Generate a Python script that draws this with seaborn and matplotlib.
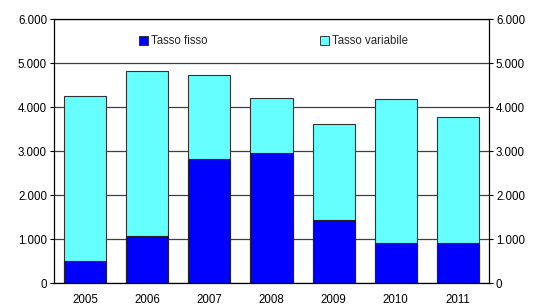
import matplotlib
matplotlib.use("Agg")
import matplotlib.pyplot as plt
import seaborn as sns
import pandas as pd
from matplotlib.patches import Patch
from matplotlib.ticker import FuncFormatter

sns.set_theme(style="white")
plt.rcParams["font.family"] = ["Liberation Sans", "DejaVu Sans"]

years = ["2005", "2006", "2007", "2008", "2009", "2010", "2011"]
fisso = [500, 1060, 2815, 2955, 1425, 905, 915]
totale = [4260, 4810, 4725, 4210, 3615, 4190, 3765]

df = pd.DataFrame({"anno": years, "fisso": fisso, "totale": totale})

fig = plt.figure(figsize=(5.34, 3.06), dpi=100)
ax = fig.add_axes([54 / 534, 1 - 283 / 306, 435 / 534, 264 / 306])

ax.set_axisbelow(True)
ax.yaxis.grid(True, color="#404040", linewidth=0.9)
sns.barplot(data=df, x="anno", y="totale", color="#66FFFF", saturation=1,
            width=0.68, edgecolor="#333333", linewidth=0.8, ax=ax)
sns.barplot(data=df, x="anno", y="fisso", color="#0000FF", saturation=1,
            width=0.68, edgecolor="#222222", linewidth=0.8, ax=ax)

ax.set_ylim(0, 6000)
ax.set_xlim(-0.5, 6.5)
ax.set_yticks(range(0, 6001, 1000))
fmt = FuncFormatter(lambda v, p: f"{int(v):,}".replace(",", "."))
ax.yaxis.set_major_formatter(fmt)
ax.set_xlabel("")
ax.set_ylabel("")
for s in ax.spines.values():
    s.set_color("black")
    s.set_linewidth(0.9)
ax.tick_params(axis="y", labelsize=8.3, colors="black", length=3, width=0.8,
               direction="out", left=True, right=True, labelright=True, pad=2)
ax.tick_params(axis="x", labelsize=8.3, length=0, pad=8)
for lbl in ax.get_yticklabels() + ax.get_xticklabels():
    lbl.set_color("black")

handles = [Patch(facecolor="#0000FF", edgecolor="#222222", linewidth=0.6),
           Patch(facecolor="#66FFFF", edgecolor="#222222", linewidth=0.6)]
ax.legend(handles, ["Tasso fisso", "Tasso variabile"], ncol=2, frameon=False,
          loc="center", bbox_to_anchor=(0.504, 0.915), fontsize=8.3,
          handlelength=0.8, handleheight=0.8, handletextpad=0.2,
          columnspacing=9.8)

fig.savefig("out.png", dpi=100)
